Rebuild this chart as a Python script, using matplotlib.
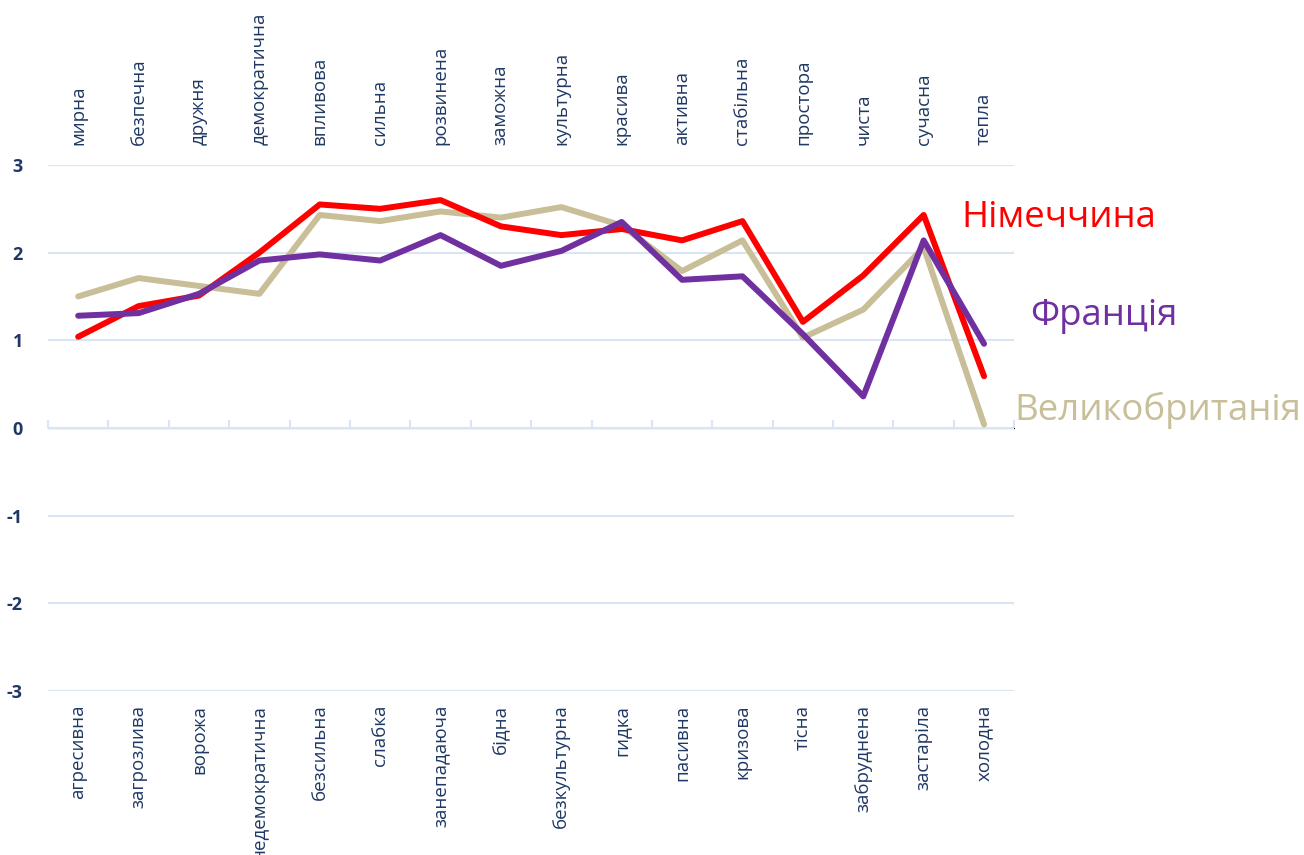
import matplotlib.pyplot as plt
import numpy as np

plt.rcParams['font.family'] = ['Open Sans', 'DejaVu Sans']
plt.rcParams['axes.unicode_minus'] = False

top_labels = ["мирна", "безпечна", "дружня", "демократична", "впливова", "сильна",
              "розвинена", "заможна", "культурна", "красива", "активна", "стабільна",
              "простора", "чиста", "сучасна", "тепла"]
bottom_labels = ["агресивна", "загрозлива", "ворожа", "недемократична", "безсильна",
                 "слабка", "занепадаюча", "бідна", "безкультурна", "гидка", "пасивна",
                 "кризова", "тісна", "забруднена", "застаріла", "холодна"]

germany = [1.04, 1.39, 1.51, 2.00, 2.55, 2.50, 2.60, 2.30, 2.20, 2.27, 2.14, 2.36,
           1.21, 1.74, 2.43, 0.59]
britain = [1.50, 1.71, 1.62, 1.53, 2.43, 2.36, 2.47, 2.40, 2.52, 2.31, 1.79, 2.14,
           1.03, 1.35, 2.06, 0.04]
france = [1.28, 1.31, 1.53, 1.91, 1.98, 1.91, 2.20, 1.85, 2.02, 2.35, 1.69, 1.73,
          1.07, 0.36, 2.14, 0.96]

TEXT_COLOR = "#1F3864"
GRID_COLOR = "#D9E4F4"

fig = plt.figure(figsize=(13.04, 8.55), dpi=100)
ax = fig.add_axes([0.0368, 0.192, 0.741, 0.615])

x = np.arange(len(top_labels))

ax.plot(x, britain, color="#C8BE98", lw=4.3, solid_capstyle="round", zorder=3)
ax.plot(x, germany, color="#FF0000", lw=4.3, solid_capstyle="round", zorder=4)
ax.plot(x, france, color="#7030A0", lw=4.3, solid_capstyle="round", zorder=5)

ax.set_xlim(-0.5, len(x) - 0.5)
ax.set_ylim(-3, 3)
ax.set_yticks(range(-3, 4))
ax.yaxis.grid(True, color=GRID_COLOR, lw=1.5)
ax.set_axisbelow(True)
for s in ax.spines.values():
    s.set_visible(False)

ax.tick_params(axis="y", length=0, pad=18, labelsize=13, labelcolor=TEXT_COLOR)
for t in ax.get_yticklabels():
    t.set_fontweight("bold")

# bottom labels (negative side) at the foot of the plot
ax.set_xticks(x, bottom_labels, rotation=90, va="top", ha="center")
ax.tick_params(axis="x", length=0, pad=10, labelsize=13.5, labelcolor=TEXT_COLOR)

# top labels (positive side)
top = ax.secondary_xaxis("top")
top.set_xticks(x, top_labels, rotation=90, va="bottom", ha="center")
top.tick_params(length=0, pad=14.5, labelsize=13.5, labelcolor=TEXT_COLOR)
top.spines["top"].set_visible(False)

# horizontal axis line at zero with ticks between categories
mid = ax.secondary_xaxis(0.5)
mid.set_xticks(np.arange(-0.5, len(x), 1.0), [""] * (len(x) + 1))
mid.tick_params(length=6, width=1.5, color=GRID_COLOR, direction="out")
mid.spines["bottom"].set_color(GRID_COLOR)
mid.spines["bottom"].set_linewidth(1.5)

fig.text(0.737, 0.745, "Німеччина", color="#FF0000", fontsize=26.4, va="center")
fig.text(0.790, 0.630, "Франція", color="#7030A0", fontsize=26.4, va="center")
fig.text(0.778, 0.520, "Великобританія", color="#C8BE98", fontsize=26.4, va="center")

fig.savefig("out.png", dpi=100)
